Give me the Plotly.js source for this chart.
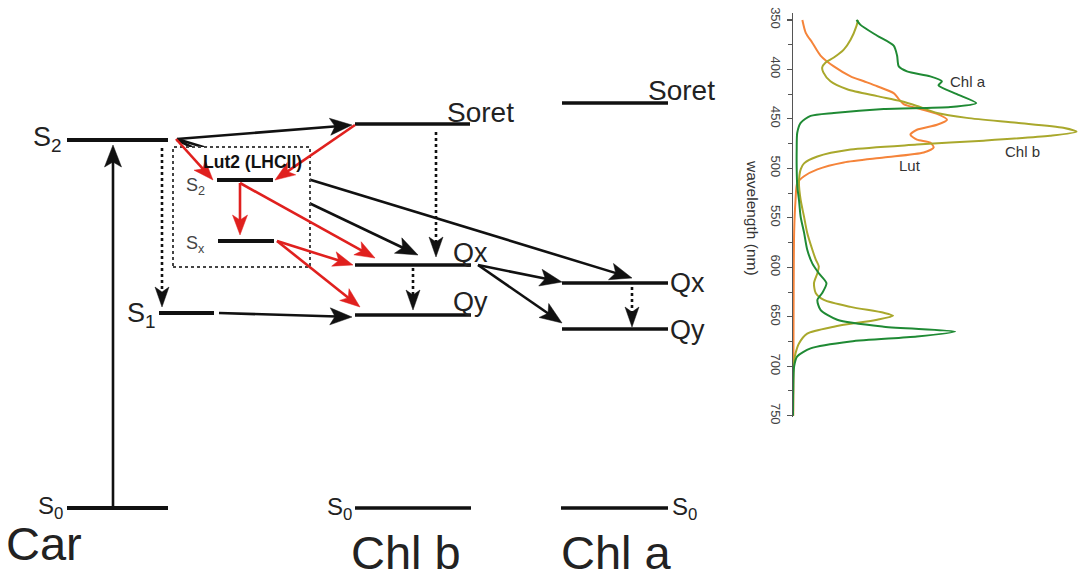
<!DOCTYPE html>
<html>
<head>
<meta charset="utf-8">
<script src="https://cdn.plot.ly/plotly-3.0.1.min.js"></script>
<style>html,body{margin:0;padding:0;background:#fff;}#chart{width:1078px;height:580px;}</style>
</head>
<body>
<div id="chart"></div>
<script>
// ---------- Spectra data (wavelength nm, relative absorbance) ----------
const chlaWl = [350,355,366,376,386,397,402,407,412,416,425,434,438,440,444,447,454,464,481,500,518,532,549,565,582,596,606,616,626,633,643,653,660,665,670,675,682,690,700,725,750];
const chlaAbs = [0.224,0.238,0.297,0.355,0.367,0.373,0.402,0.484,0.525,0.513,0.578,0.646,0.555,0.320,0.144,0.062,0.027,0.015,0.013,0.013,0.015,0.021,0.027,0.039,0.050,0.068,0.091,0.118,0.103,0.086,0.097,0.156,0.320,0.572,0.437,0.203,0.062,0.015,0.004,0.001,0.0];
const chlbWl = [350,356,370,380,388,393,398,403,412,420,427,432,437,444,449,454,459,463,467,472,476,481,488,495,501,515,532,549,565,582,592,599,606,616,626,633,640,646,649,653,660,667,677,687,700,725,750];
const chlbAbs = [0.229,0.224,0.203,0.179,0.144,0.115,0.103,0.107,0.132,0.191,0.297,0.379,0.437,0.508,0.613,0.789,0.953,1.0,0.906,0.672,0.437,0.203,0.086,0.039,0.027,0.021,0.027,0.039,0.050,0.068,0.080,0.091,0.086,0.074,0.080,0.109,0.203,0.320,0.353,0.297,0.144,0.050,0.021,0.009,0.001,0.0,0.0];
const lutWl = [350,363,373,386,397,407,412,417,424,430,435,440,445,451,456,461,466,471,474,479,484,489,494,501,508,515,532,565,650,750];
const lutAbs = [0.033,0.045,0.068,0.097,0.144,0.203,0.250,0.297,0.355,0.373,0.390,0.449,0.508,0.543,0.508,0.437,0.414,0.437,0.484,0.496,0.461,0.320,0.179,0.086,0.039,0.015,0.009,0.004,0.002,0.001];
const wlTicks = [350,400,450,500,550,600,650,700,750];

// ---------- Energy-level diagram data (arbitrary energy units) ----------
const levelNames = ['Car S0','Car S1','Car S2','Lut2 S2','Lut2 Sx','Chl b S0','Chl b Qy','Chl b Qx','Chl b Soret','Chl a S0','Chl a Qy','Chl a Qx','Chl a Soret'];
const levelX0 = [67,159,67,217,218,355,355,355,355,561,562,562,562];
const levelX1 = [168,214,168,273,274,471,471,471,470,668,668,668,668];
const levelE  = [72,267,440,400,339,72,265,315,456,72,251,297,477];

// transitions: start point, tip point, kind
const arrX0 = [177,177, 113,177,219,478,478, 162,436,413,632, 176,355,240,240,277,277];
const arrE0 = [441,440, 72,441,267,315,315, 432,448,312,293, 441,455,397,397,339,339];
const arrX1 = [632,418, 113,352,352,562,562, 162,436,413,632, 213,275,240,375,353,360];
const arrE1 = [302,325, 435,455,263,298,257, 273,323,270,253, 400,400,345,322,315,273];
const arrKind = ['solid','solid','solid','solid','solid','solid','solid','dotted','dotted','dotted','dotted','red','red','red','red','red','red'];

const FONT = 'Liberation Sans, Arial, Helvetica, sans-serif';
const BLACK = '#111111', RED = '#e0201e';

function arrow(i){
  const k = arrKind[i];
  const color = k === 'red' ? RED : BLACK;
  const width = k === 'red' ? 2.6 : 2.6;
  const dash = k === 'dotted' ? 'dot' : 'solid';
  const L = k === 'red' ? 20 : (k === 'dotted' ? 20 : 22);
  const W = k === 'red' ? 7.5 : (k === 'dotted' ? 7 : 8.5);
  const x0 = arrX0[i], y0 = arrE0[i], x1 = arrX1[i], y1 = arrE1[i];
  const dx = x1 - x0, dy = y1 - y0, len = Math.hypot(dx, dy);
  const ux = dx/len, uy = dy/len, nx = -uy, ny = ux;
  const bx = x1 - ux*L, by = y1 - uy*L;
  const mx = x1 - ux*(L-5), my = y1 - uy*(L-5);
  const lx = x1 - ux*(L-7), ly = y1 - uy*(L-7);
  return [
    {type:'line', xref:'x', yref:'y', x0:x0, y0:y0, x1:lx, y1:ly, line:{color:color, width:width, dash:dash}},
    {type:'path', xref:'x', yref:'y',
     path:'M'+x1+','+y1+' L'+(bx+nx*W)+','+(by+ny*W)+' L'+mx+','+my+' L'+(bx-nx*W)+','+(by-ny*W)+' Z',
     fillcolor:color, line:{color:color, width:0.5}}
  ];
}
function level(i){
  const w = (levelNames[i].indexOf('Chl') === 0) ? 3.4 : 4;
  return {type:'line', xref:'x', yref:'y', x0:levelX0[i], x1:levelX1[i], y0:levelE[i], y1:levelE[i], line:{color:BLACK, width:w}};
}

let shapes = [];
// lines that pass under the Lut2 box
shapes = shapes.concat(arrow(0), arrow(1));
// Lut2 box
shapes.push({type:'rect', xref:'x', yref:'y', x0:173, x1:310, y0:313, y1:433, fillcolor:'#ffffff', line:{color:'#444', width:2, dash:'dot'}});
for (let i = 2; i < 11; i++) shapes = shapes.concat(arrow(i));
for (let i = 0; i < levelNames.length; i++) shapes.push(level(i));
for (let i = 11; i < arrKind.length; i++) shapes = shapes.concat(arrow(i));

function txt(text, x, y, size, xanchor, color, extra){
  return Object.assign({text:text, x:x, y:y, xref:'x', yref:'y', showarrow:false, xanchor:xanchor, yanchor:'middle',
    font:{family:FONT, size:size, color:color || '#222'}}, extra || {});
}
const annotations = [
  txt('S<sub>2</sub>', 64, 441, 27, 'right'),
  txt('S<sub>1</sub>', 158, 265, 27, 'right'),
  txt('S<sub>0</sub>', 65, 73, 24, 'right'),
  txt('Car', 4, 37, 47, 'left'),
  txt('<b>Lut2 (LHCII)</b>', 252, 418, 17.5, 'center', '#111'),
  txt('S<sub>2</sub>', 207, 394, 18, 'right', '#444'),
  txt('S<sub>x</sub>', 207, 336, 18, 'right', '#444'),
  txt('Soret', 445, 468, 28, 'left'),
  txt('Qx', 451, 327, 27, 'left'),
  txt('Qy', 451, 278, 27, 'left'),
  txt('S<sub>0</sub>', 354, 72, 24, 'right'),
  txt('Chl b', 350, 0, 47, 'left', '#222', {yanchor:'bottom', borderpad:0}),
  txt('Soret', 646, 490, 28, 'left'),
  txt('Qx', 668, 297, 27, 'left'),
  txt('Qy', 668, 250, 27, 'left'),
  txt('S<sub>0</sub>', 670, 72, 24, 'left'),
  txt('Chl a', 560, 0, 47, 'left', '#222', {yanchor:'bottom', borderpad:0}),
  txt('wavelength (nm)', 753, 362, 15.5, 'center', '#333', {textangle:90}),
  {text:'Chl a', x:0.617, y:412.7, xref:'x2', yref:'y2', showarrow:false, xanchor:'center', yanchor:'middle', font:{family:FONT, size:15, color:'#333'}},
  {text:'Chl b', x:0.811, y:482.5, xref:'x2', yref:'y2', showarrow:false, xanchor:'center', yanchor:'middle', font:{family:FONT, size:15, color:'#333'}},
  {text:'Lut', x:0.413, y:497.6, xref:'x2', yref:'y2', showarrow:false, xanchor:'center', yanchor:'middle', font:{family:FONT, size:15, color:'#333'}}
];

const traces = [
  {x:[], y:[], xaxis:'x', yaxis:'y', type:'scatter', mode:'lines', hoverinfo:'skip'},
  {x:lutAbs, y:lutWl, xaxis:'x2', yaxis:'y2', type:'scatter', mode:'lines', name:'Lut', line:{color:'#f5843a', width:2, shape:'spline', smoothing:0.7}},
  {x:chlbAbs, y:chlbWl, xaxis:'x2', yaxis:'y2', type:'scatter', mode:'lines', name:'Chl b', line:{color:'#a9a82c', width:2, shape:'spline', smoothing:0.7}},
  {x:chlaAbs, y:chlaWl, xaxis:'x2', yaxis:'y2', type:'scatter', mode:'lines', name:'Chl a', line:{color:'#1f8a34', width:2, shape:'spline', smoothing:0.7}}
];

const layout = {
  width:1078, height:580,
  margin:{l:0, r:0, t:0, b:0, pad:0},
  paper_bgcolor:'#ffffff', plot_bgcolor:'rgba(0,0,0,0)',
  showlegend:false,
  font:{family:FONT},
  xaxis:{domain:[0,1], range:[0,1078], visible:false, fixedrange:true},
  yaxis:{domain:[0,1], range:[0,580], visible:false, fixedrange:true},
  xaxis2:{domain:[793/1078, 1], range:[0,1.005], visible:false, anchor:'y2', fixedrange:true},
  yaxis2:{domain:[1-416.7/580, 1-13/580], range:[751,343], anchor:'x2', side:'left',
    showline:true, linecolor:'#555', linewidth:1.5, showgrid:false, zeroline:false,
    tickmode:'array', tickvals:wlTicks, ticktext:wlTicks.map(String),
    ticks:'outside', ticklen:5, tickwidth:1.2, tickcolor:'#555', tickangle:90,
    tickfont:{family:FONT, size:13, color:'#444'},
    minor:{tickmode:'linear', tick0:325, dtick:25, ticks:'outside', ticklen:4, tickwidth:1, tickcolor:'#555'},
    fixedrange:true},
  shapes:shapes,
  annotations:annotations
};

Plotly.newPlot('chart', traces, layout, {staticPlot:true, displayModeBar:false});
</script>
</body>
</html>
